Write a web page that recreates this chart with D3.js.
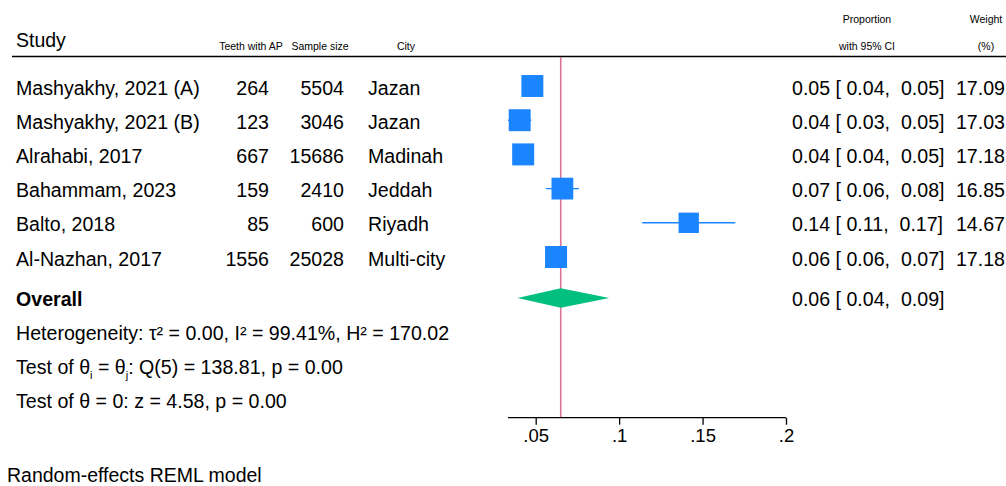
<!DOCTYPE html>
<html><head><meta charset="utf-8">
<script src="https://cdn.jsdelivr.net/npm/d3@7"></script>
<style>
body{margin:0;background:#fff;}
svg{display:block;font-family:"Liberation Sans",Arial,Helvetica,sans-serif;}
text{white-space:pre;}
</style></head>
<body><svg id="c" width="1006" height="486"></svg>
<script>
const studies = ["Mashyakhy, 2021 (A)","Mashyakhy, 2021 (B)","Alrahabi, 2017","Bahammam, 2023","Balto, 2018","Al-Nazhan, 2017"];
const teeth = [264,123,667,159,85,1556];
const sampleSize = [5504,3046,15686,2410,600,25028];
const cities = ["Jazan","Jazan","Madinah","Jeddah","Riyadh","Multi-city"];
const est = [0.0480,0.0404,0.0425,0.0660,0.1417,0.0622];
const lower = [0.0423,0.0334,0.0394,0.0561,0.1138,0.0592];
const upper = [0.0536,0.0474,0.0457,0.0759,0.1696,0.0652];
const ciLabels = ["0.05 [ 0.04,  0.05]","0.04 [ 0.03,  0.05]","0.04 [ 0.04,  0.05]","0.07 [ 0.06,  0.08]","0.14 [ 0.11,  0.17]","0.06 [ 0.06,  0.07]"];
const weights = [17.09,17.03,17.18,16.85,14.67,17.18];
const overall = {est:0.065, lower:0.0391, upper:0.0941, label:"0.06 [ 0.04,  0.09]"};
const xTicks = [0.05,0.1,0.15,0.2];
const tickLabels = [".05",".1",".15",".2"];

const svg = d3.select("#c");
const x = d3.scaleLinear().domain([0.0334,0.2]).range([508,786]);
const y = d3.scaleLinear().domain([0,1]).range([86,120.2]);
const size = d3.scaleSqrt().domain([0,17.18]).range([0,22]);
const blue = "#1a85ff";
const FS = 19.6;

// header
svg.append("text").attr("x",16).attr("y",47).attr("font-size",19.5).text("Study");
const smallHdr = [
  {t:"Teeth with AP",x:251,y:50},{t:"Sample size",x:320,y:50},{t:"City",x:406,y:50},
  {t:"Proportion",x:867,y:23},{t:"with 95% CI",x:867,y:50},{t:"Weight",x:986,y:23},{t:"(%)",x:986,y:50}
];
svg.selectAll("text.hdr").data(smallHdr).join("text").attr("class","hdr")
  .attr("x",d=>d.x).attr("y",d=>d.y).attr("font-size",10.5).attr("text-anchor","middle").text(d=>d.t);
svg.append("line").attr("x1",12).attr("x2",1006).attr("y1",56.5).attr("y2",56.5).attr("stroke","#000").attr("stroke-width",1.4);

// overall vertical line
svg.append("line").attr("x1",x(overall.est)).attr("x2",x(overall.est)).attr("y1",57).attr("y2",418)
  .attr("stroke","#d9739a").attr("stroke-width",1.6);

const idx = d3.range(studies.length);
const g = svg.append("g");
// text columns
g.selectAll("text.study").data(idx).join("text").attr("x",16).attr("y",i=>y(i)+8.5).attr("font-size",FS).text(i=>studies[i]);
g.selectAll("text.teeth").data(idx).join("text").attr("x",269).attr("y",i=>y(i)+8.5).attr("font-size",FS).attr("text-anchor","end").text(i=>teeth[i]);
g.selectAll("text.ss").data(idx).join("text").attr("x",344).attr("y",i=>y(i)+8.5).attr("font-size",FS).attr("text-anchor","end").text(i=>sampleSize[i]);
g.selectAll("text.city").data(idx).join("text").attr("x",368).attr("y",i=>y(i)+8.5).attr("font-size",FS).text(i=>cities[i]);
g.selectAll("text.ci").data(idx).join("text").attr("x",792).attr("y",i=>y(i)+8.5).attr("font-size",FS).text(i=>ciLabels[i]);
g.selectAll("text.w").data(idx).join("text").attr("x",1005).attr("y",i=>y(i)+8.5).attr("font-size",FS).attr("text-anchor","end").text(i=>weights[i].toFixed(2));

// CI lines and squares
g.selectAll("line.ci").data(idx).join("line").attr("x1",i=>x(Math.max(lower[i],0.0334))).attr("x2",i=>x(upper[i]))
  .attr("y1",i=>y(i)).attr("y2",i=>y(i)).attr("stroke",blue).attr("stroke-width",1.4);
g.selectAll("rect.sq").data(idx).join("rect")
  .attr("x",i=>x(est[i])-size(weights[i])/2).attr("y",i=>y(i)-size(weights[i])/2)
  .attr("width",i=>size(weights[i])).attr("height",i=>size(weights[i])).attr("fill",blue);

// overall
const oy = y(6.2);
svg.append("path").attr("d",`M${x(overall.lower)},${oy} L${x(overall.est)},${oy-9.7} L${x(overall.upper)},${oy} L${x(overall.est)},${oy+9.7} Z`).attr("fill","#00bf7f");
svg.append("text").attr("x",16).attr("y",oy+8).attr("font-size",FS).attr("font-weight","bold").text("Overall");
svg.append("text").attr("x",792).attr("y",oy+8).attr("font-size",FS).text(overall.label);

// stats
svg.append("text").attr("x",16).attr("y",340).attr("font-size",FS).text("Heterogeneity: τ² = 0.00, I² = 99.41%, H² = 170.02");
const t2 = svg.append("text").attr("x",16).attr("y",374.3).attr("font-size",FS);
t2.append("tspan").text("Test of θ");
t2.append("tspan").attr("font-size",11).attr("dy",5).text("i");
t2.append("tspan").attr("dy",-5).text(" = θ");
t2.append("tspan").attr("font-size",11).attr("dy",5).text("j");
t2.append("tspan").attr("dy",-5).text(": Q(5) = 138.81, p = 0.00");
svg.append("text").attr("x",16).attr("y",408).attr("font-size",FS).text("Test of θ = 0: z = 4.58, p = 0.00");

// axis
const axis = d3.axisBottom(x).tickValues(xTicks).tickFormat((d,i)=>tickLabels[i]).tickSize(7).tickSizeOuter(0);
const ag = svg.append("g").attr("transform","translate(0,417.7)").call(axis);
ag.select(".domain").attr("stroke-width",1.3).attr("d",`M508,0H786`);
ag.selectAll(".tick line").attr("stroke-width",1.3);
ag.selectAll(".tick text").attr("font-size",18.5).attr("font-family","Liberation Sans, Arial, sans-serif").attr("dy","0.9em").attr("y",8);

svg.append("text").attr("x",7).attr("y",482).attr("font-size",19.5).text("Random-effects REML model");
</script></body></html>
